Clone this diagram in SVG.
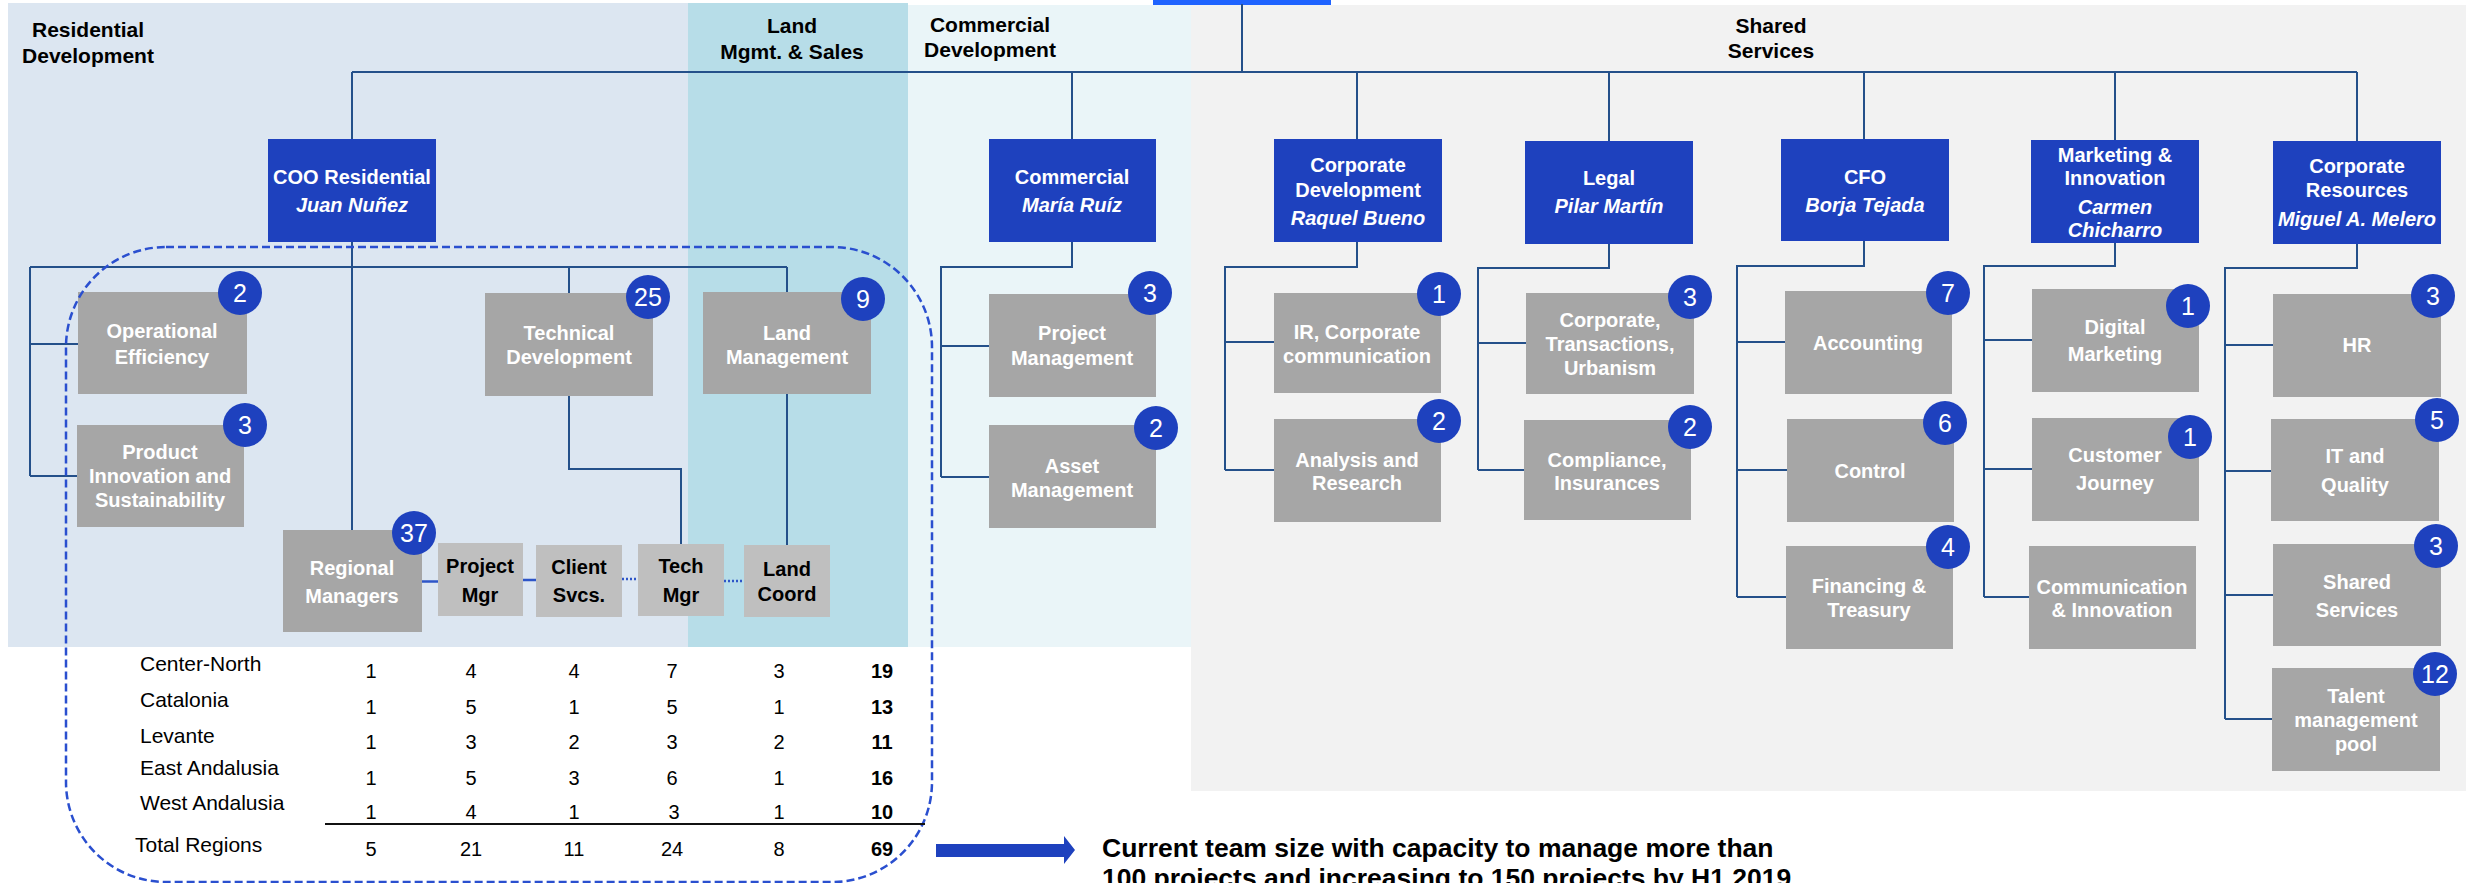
<svg xmlns="http://www.w3.org/2000/svg" width="2466" height="883" viewBox="0 0 2466 883">
<style>
text{font-family:"Liberation Sans",Arial,Helvetica,sans-serif}
.hd{font-size:21px;font-weight:bold;fill:#000;text-anchor:middle}
.bb{fill:#1e41be}
.gb{fill:#a6a6a6}
.lb{fill:#bfbfbf}
.tw{font-size:20px;font-weight:bold;fill:#fff;text-anchor:middle}
.tk{font-size:20px;font-weight:bold;fill:#000;text-anchor:middle}
.it{font-style:italic}
.bc{fill:#1e41be}
.bt{font-size:25px;fill:#fff;text-anchor:middle}
.c{stroke:#24508a;stroke-width:2;fill:none}
.cs{stroke:#2d55c8;stroke-width:2.5;fill:none}
.cd{stroke:#2d55c8;stroke-width:2.5;fill:none;stroke-dasharray:2 2}
.rl{font-size:21px;fill:#000}
.nm{font-size:20px;fill:#000;text-anchor:middle}
.nb{font-size:20px;font-weight:bold;fill:#000;text-anchor:middle}
</style>
<defs>
<g id="badge"><circle r="22" class="bc"/></g>
</defs>
<!-- backgrounds -->
<g id="backgrounds">
<rect x="8" y="3" width="680" height="644" fill="#dce6f1"/>
<rect x="688" y="3" width="220" height="644" fill="#b7dde8"/>
<rect x="908" y="5" width="283" height="642" fill="#eaf5f8"/>
<rect x="1191" y="5" width="1275" height="786" fill="#f2f2f2"/>
<rect x="1153" y="0" width="178" height="5" fill="#1f63ff"/>
</g>
<g id="section-labels">
<text class="hd" x="88" y="37">Residential</text>
<text class="hd" x="88" y="63">Development</text>
<text class="hd" x="792" y="33">Land</text>
<text class="hd" x="792" y="59">Mgmt. &amp; Sales</text>
<text class="hd" x="990" y="32">Commercial</text>
<text class="hd" x="990" y="57">Development</text>
<text class="hd" x="1771" y="33">Shared</text>
<text class="hd" x="1771" y="58">Services</text>
</g>
<!-- connectors -->
<g id="connectors">
<path class="c" d="M1242,4 V72 M352,72 H2357 M352,72 V139 M1072,72 V139 M1357,72 V139 M1609,72 V141 M1864,72 V139 M2115,72 V140 M2357,72 V141"/>
<path class="c" d="M352,242 V530 M30,267 H787 M30,267 V476 M30,344 H78 M30,476 H77 M569,267 V293 M787,267 V292 M569,396 V469 H681 V544 M787,394 V545"/>
<path class="cs" d="M422,581.5 H438 M523,580 H536"/>
<path class="cd" d="M622,579 H638 M724,581 H744"/>
<path class="c" d="M1072,242 V267 H941 V477 M941,346 H989 M941,477 H989"/>
<path class="c" d="M1357,242 V267 H1225 V470 M1225,342 H1274 M1225,470 H1274"/>
<path class="c" d="M1609,244 V268 H1478 V470 M1478,343 H1526 M1478,470 H1524"/>
<path class="c" d="M1864,241 V266 H1737 V597 M1737,342 H1785 M1737,470 H1787 M1737,597 H1786"/>
<path class="c" d="M2115,243 V266 H1984 V597 M1984,340 H2032 M1984,469 H2032 M1984,597 H2029"/>
<path class="c" d="M2357,244 V268 H2225 V719 M2225,345 H2273 M2225,471 H2271 M2225,595 H2273 M2225,719 H2272"/>
</g>
<!-- blue head nodes -->
<g id="coo"><rect class="bb" x="268" y="139" width="168" height="103"/><text class="tw" x="352" y="184">COO Residential</text><text class="tw it" x="352" y="212">Juan Nuñez</text></g>
<g id="commercial"><rect class="bb" x="989" y="139" width="167" height="103"/><text class="tw" x="1072" y="184">Commercial</text><text class="tw it" x="1072" y="212">María Ruíz</text></g>
<g id="corpdev"><rect class="bb" x="1274" y="139" width="168" height="103"/><text class="tw" x="1358" y="172">Corporate</text><text class="tw" x="1358" y="197">Development</text><text class="tw it" x="1358" y="225">Raquel Bueno</text></g>
<g id="legal"><rect class="bb" x="1525" y="141" width="168" height="103"/><text class="tw" x="1609" y="185">Legal</text><text class="tw it" x="1609" y="213">Pilar Martín</text></g>
<g id="cfo"><rect class="bb" x="1781" y="139" width="168" height="102"/><text class="tw" x="1865" y="184">CFO</text><text class="tw it" x="1865" y="212">Borja Tejada</text></g>
<g id="marketing"><rect class="bb" x="2031" y="140" width="168" height="103"/><text class="tw" x="2115" y="162">Marketing &amp;</text><text class="tw" x="2115" y="185">Innovation</text><text class="tw it" x="2115" y="214">Carmen</text><text class="tw it" x="2115" y="237">Chicharro</text></g>
<g id="corpres"><rect class="bb" x="2273" y="141" width="168" height="103"/><text class="tw" x="2357" y="173">Corporate</text><text class="tw" x="2357" y="197">Resources</text><text class="tw it" x="2357" y="226">Miguel A. Melero</text></g>
<!-- residential nodes -->
<g id="opeff"><rect class="gb" x="78" y="292" width="169" height="102"/><text class="tw" x="162" y="338">Operational</text><text class="tw" x="162" y="364">Efficiency</text><use href="#badge" x="240" y="293"/><text class="bt" x="240" y="302">2</text></g>
<g id="prodinn"><rect class="gb" x="77" y="425" width="167" height="102"/><text class="tw" x="160" y="459">Product</text><text class="tw" x="160" y="483">Innovation and</text><text class="tw" x="160" y="507">Sustainability</text><use href="#badge" x="245" y="425"/><text class="bt" x="245" y="434">3</text></g>
<g id="techdev"><rect class="gb" x="485" y="293" width="168" height="103"/><text class="tw" x="569" y="340">Technical</text><text class="tw" x="569" y="364">Development</text><use href="#badge" x="648" y="297"/><text class="bt" x="648" y="306">25</text></g>
<g id="landmgmt"><rect class="gb" x="703" y="292" width="168" height="102"/><text class="tw" x="787" y="340">Land</text><text class="tw" x="787" y="364">Management</text><use href="#badge" x="863" y="299"/><text class="bt" x="863" y="308">9</text></g>
<g id="regional"><rect class="gb" x="283" y="530" width="139" height="102"/><text class="tw" x="352" y="575">Regional</text><text class="tw" x="352" y="603">Managers</text><use href="#badge" x="414" y="533"/><text class="bt" x="414" y="542">37</text></g>
<g id="projmgr"><rect class="lb" x="438" y="543" width="85" height="73"/><text class="tk" x="480" y="573">Project</text><text class="tk" x="480" y="602">Mgr</text></g>
<g id="clientsvcs"><rect class="lb" x="536" y="545" width="86" height="72"/><text class="tk" x="579" y="574">Client</text><text class="tk" x="579" y="602">Svcs.</text></g>
<g id="techmgr"><rect class="lb" x="638" y="544" width="86" height="72"/><text class="tk" x="681" y="573">Tech</text><text class="tk" x="681" y="602">Mgr</text></g>
<g id="landcoord"><rect class="lb" x="744" y="545" width="86" height="72"/><text class="tk" x="787" y="576">Land</text><text class="tk" x="787" y="601">Coord</text></g>
<!-- commercial nodes -->
<g id="projmgmt"><rect class="gb" x="989" y="294" width="167" height="103"/><text class="tw" x="1072" y="340">Project</text><text class="tw" x="1072" y="365">Management</text><use href="#badge" x="1150" y="293"/><text class="bt" x="1150" y="302">3</text></g>
<g id="assetmgmt"><rect class="gb" x="989" y="425" width="167" height="103"/><text class="tw" x="1072" y="473">Asset</text><text class="tw" x="1072" y="497">Management</text><use href="#badge" x="1156" y="428"/><text class="bt" x="1156" y="437">2</text></g>
<!-- corporate development nodes -->
<g id="ircomm"><rect class="gb" x="1274" y="293" width="167" height="100"/><text class="tw" x="1357" y="339">IR, Corporate</text><text class="tw" x="1357" y="363">communication</text><use href="#badge" x="1439" y="294"/><text class="bt" x="1439" y="303">1</text></g>
<g id="analysis"><rect class="gb" x="1274" y="419" width="167" height="103"/><text class="tw" x="1357" y="467">Analysis and</text><text class="tw" x="1357" y="490">Research</text><use href="#badge" x="1439" y="421"/><text class="bt" x="1439" y="430">2</text></g>
<!-- legal nodes -->
<g id="corptrans"><rect class="gb" x="1526" y="293" width="168" height="101"/><text class="tw" x="1610" y="327">Corporate,</text><text class="tw" x="1610" y="351">Transactions,</text><text class="tw" x="1610" y="375">Urbanism</text><use href="#badge" x="1690" y="297"/><text class="bt" x="1690" y="306">3</text></g>
<g id="compliance"><rect class="gb" x="1524" y="420" width="167" height="100"/><text class="tw" x="1607" y="467">Compliance,</text><text class="tw" x="1607" y="490">Insurances</text><use href="#badge" x="1690" y="427"/><text class="bt" x="1690" y="436">2</text></g>
<!-- CFO nodes -->
<g id="accounting"><rect class="gb" x="1785" y="291" width="167" height="103"/><text class="tw" x="1868" y="350">Accounting</text><use href="#badge" x="1948" y="293"/><text class="bt" x="1948" y="302">7</text></g>
<g id="control"><rect class="gb" x="1787" y="419" width="167" height="103"/><text class="tw" x="1870" y="478">Control</text><use href="#badge" x="1945" y="423"/><text class="bt" x="1945" y="432">6</text></g>
<g id="financing"><rect class="gb" x="1786" y="546" width="167" height="103"/><text class="tw" x="1869" y="593">Financing &amp;</text><text class="tw" x="1869" y="617">Treasury</text><use href="#badge" x="1948" y="547"/><text class="bt" x="1948" y="556">4</text></g>
<!-- marketing nodes -->
<g id="digital"><rect class="gb" x="2032" y="289" width="167" height="103"/><text class="tw" x="2115" y="334">Digital</text><text class="tw" x="2115" y="361">Marketing</text><use href="#badge" x="2188" y="306"/><text class="bt" x="2188" y="315">1</text></g>
<g id="customer"><rect class="gb" x="2032" y="418" width="167" height="103"/><text class="tw" x="2115" y="462">Customer</text><text class="tw" x="2115" y="490">Journey</text><use href="#badge" x="2190" y="437"/><text class="bt" x="2190" y="446">1</text></g>
<g id="comminn"><rect class="gb" x="2029" y="546" width="167" height="103"/><text class="tw" x="2112" y="594">Communication</text><text class="tw" x="2112" y="617">&amp; Innovation</text></g>
<!-- corporate resources nodes -->
<g id="hr"><rect class="gb" x="2273" y="294" width="168" height="103"/><text class="tw" x="2357" y="352">HR</text><use href="#badge" x="2433" y="296"/><text class="bt" x="2433" y="305">3</text></g>
<g id="itq"><rect class="gb" x="2271" y="419" width="168" height="102"/><text class="tw" x="2355" y="463">IT and</text><text class="tw" x="2355" y="492">Quality</text><use href="#badge" x="2437" y="420"/><text class="bt" x="2437" y="429">5</text></g>
<g id="sharedsvc"><rect class="gb" x="2273" y="544" width="168" height="102"/><text class="tw" x="2357" y="589">Shared</text><text class="tw" x="2357" y="617">Services</text><use href="#badge" x="2436" y="546"/><text class="bt" x="2436" y="555">3</text></g>
<g id="talent"><rect class="gb" x="2272" y="668" width="168" height="103"/><text class="tw" x="2356" y="703">Talent</text><text class="tw" x="2356" y="727">management</text><text class="tw" x="2356" y="751">pool</text><use href="#badge" x="2435" y="674"/><text class="bt" x="2435" y="683">12</text></g>
<!-- dashed highlight -->
<rect id="highlight" x="66" y="247" width="866" height="635" rx="100" ry="100" fill="none" stroke="#2a4fcf" stroke-width="2.5" stroke-dasharray="8 4"/>
<!-- table -->
<g id="table">
<text class="rl" x="140" y="671">Center-North</text>
<text class="rl" x="140" y="707">Catalonia</text>
<text class="rl" x="140" y="743">Levante</text>
<text class="rl" x="140" y="775">East Andalusia</text>
<text class="rl" x="140" y="810">West Andalusia</text>
<text class="rl" x="135" y="852">Total Regions</text>
<g class="nm">
<text x="371" y="678">1</text><text x="471" y="678">4</text><text x="574" y="678">4</text><text x="672" y="678">7</text><text x="779" y="678">3</text>
<text x="371" y="714">1</text><text x="471" y="714">5</text><text x="574" y="714">1</text><text x="672" y="714">5</text><text x="779" y="714">1</text>
<text x="371" y="749">1</text><text x="471" y="749">3</text><text x="574" y="749">2</text><text x="672" y="749">3</text><text x="779" y="749">2</text>
<text x="371" y="785">1</text><text x="471" y="785">5</text><text x="574" y="785">3</text><text x="672" y="785">6</text><text x="779" y="785">1</text>
<text x="371" y="819">1</text><text x="471" y="819">4</text><text x="574" y="819">1</text><text x="674" y="819">3</text><text x="779" y="819">1</text>
<text x="371" y="856">5</text><text x="471" y="856">21</text><text x="574" y="856">11</text><text x="672" y="856">24</text><text x="779" y="856">8</text>
</g>
<g class="nb">
<text x="882" y="678">19</text><text x="882" y="714">13</text><text x="882" y="749">11</text><text x="882" y="785">16</text><text x="882" y="819">10</text><text x="882" y="856">69</text>
</g>
<path d="M325,824 H925" stroke="#111" stroke-width="2"/>
</g>
<!-- arrow and statement -->
<g id="statement">
<path d="M936,844 H1064 V836 L1075,850 L1064,864 V857 H936 Z" fill="#1e41be"/>
<text x="1102" y="857" font-size="26.5" font-weight="bold" fill="#000">Current team size with capacity to manage more than</text>
<text x="1102" y="887" font-size="26.5" font-weight="bold" fill="#000">100 projects and increasing to 150 projects by H1 2019</text>
</g>
</svg>
